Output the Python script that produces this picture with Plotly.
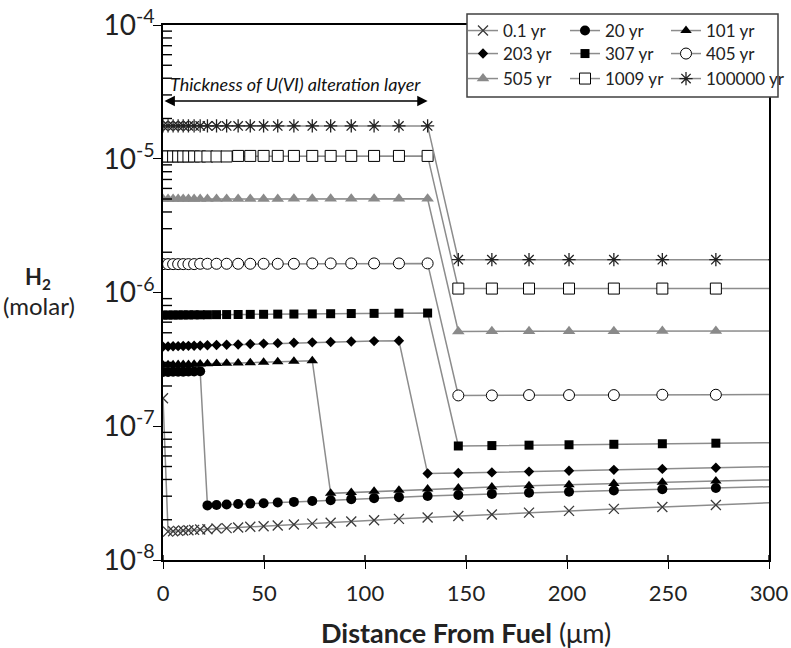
import math
import plotly.graph_objects as go

# Distance grid (µm) shared by every profile; the last node lies just past the 300 µm axis end
distance_um = [0, 2.5, 5, 7.5, 10, 12.6, 15.4, 18.4, 22, 26.5, 31.5, 37.2, 43.2, 49.8,
               56.8, 64.8, 73.9, 83, 93.2, 104.5, 116.8, 131, 146.2, 162.8, 181.2, 201,
               223.2, 247.2, 273.7, 303]

# H2 concentration (molar) at each grid node
h2_0p1yr = [1.62e-7, 1.63e-8, 1.64e-8, 1.65e-8, 1.66e-8, 1.67e-8, 1.68e-8, 1.69e-8, 1.70e-8,
            1.72e-8, 1.73e-8, 1.75e-8, 1.77e-8, 1.79e-8, 1.81e-8, 1.84e-8, 1.87e-8, 1.90e-8,
            1.94e-8, 1.98e-8, 2.03e-8, 2.08e-8, 2.13e-8, 2.19e-8, 2.26e-8, 2.33e-8, 2.41e-8,
            2.49e-8, 2.58e-8, 2.69e-8]
h2_20yr = [2.55e-7, 2.55e-7, 2.56e-7, 2.56e-7, 2.56e-7, 2.57e-7, 2.57e-7, 2.58e-7,
           2.56e-8, 2.58e-8, 2.60e-8, 2.62e-8, 2.64e-8, 2.66e-8, 2.69e-8, 2.72e-8, 2.76e-8,
           2.80e-8, 2.85e-8, 2.90e-8, 2.95e-8, 3.01e-8, 3.06e-8, 3.12e-8, 3.18e-8, 3.24e-8,
           3.31e-8, 3.38e-8, 3.45e-8, 3.54e-8]
h2_101yr = [2.87e-7, 2.88e-7, 2.88e-7, 2.89e-7, 2.89e-7, 2.90e-7, 2.91e-7, 2.92e-7, 2.93e-7,
            2.94e-7, 2.96e-7, 2.97e-7, 2.99e-7, 3.01e-7, 3.03e-7, 3.06e-7, 3.09e-7,
            3.15e-8, 3.20e-8, 3.26e-8, 3.32e-8, 3.39e-8, 3.45e-8, 3.52e-8, 3.59e-8, 3.66e-8,
            3.74e-8, 3.82e-8, 3.90e-8, 3.98e-8]
h2_203yr = [3.94e-7, 3.95e-7, 3.96e-7, 3.97e-7, 3.98e-7, 3.99e-7, 4.00e-7, 4.01e-7, 4.03e-7,
            4.05e-7, 4.07e-7, 4.09e-7, 4.12e-7, 4.15e-7, 4.18e-7, 4.21e-7, 4.24e-7, 4.27e-7,
            4.30e-7, 4.33e-7, 4.36e-7,
            4.43e-8, 4.47e-8, 4.52e-8, 4.58e-8, 4.65e-8, 4.72e-8, 4.80e-8, 4.89e-8, 4.99e-8]
h2_307yr = [6.78e-7, 6.78e-7, 6.79e-7, 6.79e-7, 6.80e-7, 6.80e-7, 6.81e-7, 6.81e-7, 6.82e-7,
            6.83e-7, 6.84e-7, 6.85e-7, 6.86e-7, 6.87e-7, 6.89e-7, 6.90e-7, 6.92e-7, 6.94e-7,
            6.96e-7, 6.98e-7, 7.00e-7, 7.02e-7,
            7.12e-8, 7.17e-8, 7.22e-8, 7.27e-8, 7.33e-8, 7.40e-8, 7.47e-8, 7.55e-8]
h2_405yr = [1.63e-6, 1.63e-6, 1.63e-6, 1.63e-6, 1.63e-6, 1.63e-6, 1.63e-6, 1.64e-6, 1.64e-6,
            1.64e-6, 1.64e-6, 1.64e-6, 1.64e-6, 1.64e-6, 1.64e-6, 1.64e-6, 1.65e-6, 1.65e-6,
            1.65e-6, 1.65e-6, 1.65e-6, 1.65e-6,
            1.70e-7, 1.70e-7, 1.71e-7, 1.71e-7, 1.71e-7, 1.72e-7, 1.72e-7, 1.73e-7]
h2_505yr = [5.00e-6, 5.00e-6, 5.00e-6, 5.00e-6, 5.00e-6, 5.00e-6, 5.00e-6, 5.01e-6, 5.01e-6,
            5.01e-6, 5.01e-6, 5.01e-6, 5.01e-6, 5.01e-6, 5.01e-6, 5.02e-6, 5.02e-6, 5.02e-6,
            5.02e-6, 5.02e-6, 5.02e-6, 5.02e-6,
            5.12e-7, 5.13e-7, 5.13e-7, 5.14e-7, 5.14e-7, 5.15e-7, 5.15e-7, 5.16e-7]
h2_1009yr = [1.04e-5, 1.04e-5, 1.04e-5, 1.04e-5, 1.04e-5, 1.04e-5, 1.04e-5, 1.04e-5, 1.04e-5,
             1.04e-5, 1.04e-5, 1.05e-5, 1.05e-5, 1.05e-5, 1.05e-5, 1.05e-5, 1.05e-5, 1.05e-5,
             1.05e-5, 1.05e-5, 1.05e-5, 1.05e-5,
             1.07e-6, 1.07e-6, 1.07e-6, 1.07e-6, 1.07e-6, 1.07e-6, 1.07e-6, 1.07e-6]
h2_100000yr = [1.76e-5, 1.76e-5, 1.76e-5, 1.76e-5, 1.76e-5, 1.76e-5, 1.76e-5, 1.76e-5, 1.76e-5,
               1.76e-5, 1.76e-5, 1.76e-5, 1.76e-5, 1.76e-5, 1.76e-5, 1.76e-5, 1.76e-5, 1.76e-5,
               1.76e-5, 1.76e-5, 1.76e-5, 1.76e-5,
               1.76e-6, 1.76e-6, 1.76e-6, 1.76e-6, 1.76e-6, 1.76e-6, 1.76e-6, 1.76e-6]

series_names = ["0.1 yr", "20 yr", "101 yr", "203 yr", "307 yr", "405 yr",
                "505 yr", "1009 yr", "100000 yr"]
series_values = [h2_0p1yr, h2_20yr, h2_101yr, h2_203yr, h2_307yr, h2_405yr,
                 h2_505yr, h2_1009yr, h2_100000yr]

y_tick_vals = [1e-8, 1e-7, 1e-6, 1e-5, 1e-4]
y_tick_text = ["10<sup>-8</sup>", "10<sup>-7</sup>", "10<sup>-6</sup>",
               "10<sup>-5</sup>", "10<sup>-4</sup>"]
# log minor ticks: 2..9 within each decade
y_minor_vals = [m * d for d in y_tick_vals[:-1] for m in range(2, 10)]
x_tick_vals = [0, 50, 100, 150, 200, 250, 300]
x_range = [0, 300]
y_log_range = [-8, -4]

layer_thickness_um = 131
FONT = "Lato"
LINE_GREY = "#8c8c8c"

# marker style for each profile
styles = [
    dict(symbol="x-thin-open", size=10, color="#3a3a3a", line=dict(color="#3a3a3a", width=1.3)),
    dict(symbol="circle", size=10, color="black", line=dict(color="black", width=0)),
    dict(symbol="triangle-up", size=10, color="black", line=dict(color="black", width=0)),
    dict(symbol="diamond", size=8, color="black", line=dict(color="black", width=0)),
    dict(symbol="square", size=9, color="black", line=dict(color="black", width=0)),
    dict(symbol="circle", size=11, color="white", line=dict(color="black", width=1)),
    dict(symbol="triangle-up", size=11, color="#8a8a8a", line=dict(color="#8a8a8a", width=0)),
    dict(symbol="square", size=11, color="white", line=dict(color="black", width=1)),
    dict(symbol="asterisk-open", size=11, color="#222222", line=dict(color="#222222", width=1.3)),
]

W, H = 791, 648
ML, MR, MT, MB = 163, 22, 25, 88
pw, ph = W - ML - MR, H - MT - MB


def px_to_paper_x(px):
    return (px - ML) / pw


def px_to_paper_y(py):
    return (H - MB - py) / ph


def log_to_paper_y(v):
    lo, hi = y_log_range
    return (math.log10(v) - lo) / (hi - lo)


# legend key: 3 x 3 grid, one single-entry legend per cell (filled row by row)
legend_cols_px = [463, 565, 666]
legend_rows_px = [13, 36, 61]
legend_ids = ["legend" if i == 0 else f"legend{i + 1}" for i in range(len(series_names))]

fig = go.Figure()
for name, vals, st, lg in zip(series_names, series_values, styles, legend_ids):
    fig.add_trace(go.Scatter(
        x=distance_um, y=vals, name=name, mode="lines+markers",
        line=dict(color=LINE_GREY, width=1.5),
        marker=st, legend=lg, cliponaxis=True,
    ))

legend_layout = {}
for i, lg in enumerate(legend_ids):
    legend_layout[lg] = dict(
        bgcolor="rgba(0,0,0,0)", borderwidth=0,
        font=dict(family=FONT, size=17, color="#222"),
        xanchor="left", yanchor="top", itemwidth=30,
        x=px_to_paper_x(legend_cols_px[i % 3]),
        y=px_to_paper_y(legend_rows_px[i // 3]),
    )

fig.update_layout(
    width=W, height=H,
    margin=dict(l=ML, r=MR, t=MT, b=MB, autoexpand=False),
    paper_bgcolor="white", plot_bgcolor="white",
    font=dict(family=FONT, color="#222"),
    showlegend=True,
    xaxis=dict(
        range=x_range, tickmode="array", tickvals=x_tick_vals,
        ticks="outside", ticklen=7, tickwidth=1.3, tickcolor="black",
        showline=True, linecolor="black", linewidth=1.5, mirror=True,
        showgrid=False, zeroline=False,
        tickfont=dict(family=FONT, size=22, color="#222"),
        ticklabelstandoff=6,
    ),
    yaxis=dict(
        type="log", range=y_log_range, tickmode="array",
        tickvals=y_tick_vals, ticktext=y_tick_text,
        ticks="outside", ticklen=8, tickwidth=1.3, tickcolor="black",
        showline=True, linecolor="black", linewidth=1.5, mirror=True,
        showgrid=False, zeroline=False,
        tickfont=dict(family=FONT, size=28, color="#222"),
        ticklabelstandoff=-7,
    ),
    **legend_layout,
)

# minor y ticks pointing into the frame
for v in y_minor_vals:
    yp = log_to_paper_y(v)
    fig.add_shape(type="line", xref="paper", yref="paper", layer="above",
                  x0=0, x1=9 / pw, y0=yp, y1=yp,
                  line=dict(color="black", width=1.4))
# inner half of the x ticks (major ticks cross the axis line)
for t in x_tick_vals:
    xp = (t - x_range[0]) / (x_range[1] - x_range[0])
    fig.add_shape(type="line", xref="paper", yref="paper", layer="above",
                  x0=xp, x1=xp, y0=0, y1=5 / ph,
                  line=dict(color="black", width=1.4))

# white legend panel with border over the top-right corner of the frame
fig.add_shape(
    type="rect", xref="paper", yref="paper", layer="above",
    x0=px_to_paper_x(467), x1=px_to_paper_x(778),
    y0=px_to_paper_y(97), y1=px_to_paper_y(14),
    fillcolor="white", line=dict(color="#404040", width=1.5),
)

arrow_y = -8 + (H - MB - 101) / (ph / 4)
label_y = -8 + (H - MB - 84) / (ph / 4)
fig.add_annotation(
    x=layer_thickness_um, y=arrow_y, ax=0, ay=arrow_y, xref="x", yref="y",
    axref="x", ayref="y", text="", showarrow=True,
    arrowhead=2, arrowside="end+start", arrowsize=1.3, arrowwidth=1.6, arrowcolor="black",
)
fig.add_annotation(
    x=layer_thickness_um / 2, y=label_y, xref="x", yref="y", showarrow=False,
    text="<i>Thickness of U(VI) alteration layer</i>",
    font=dict(family=FONT, size=18, color="#111"),
)
fig.add_annotation(
    x=px_to_paper_x(38), y=px_to_paper_y(278), xref="paper", yref="paper",
    xanchor="center", yanchor="middle",
    showarrow=False, text="<b>H<sub>2</sub></b>",
    font=dict(family=FONT, size=22, color="#222"),
)
fig.add_annotation(
    x=px_to_paper_x(39), y=px_to_paper_y(305), xref="paper", yref="paper",
    xanchor="center", yanchor="middle",
    showarrow=False, text="(molar)",
    font=dict(family=FONT, size=24, color="#222"),
)
fig.add_annotation(
    x=px_to_paper_x(466), y=px_to_paper_y(632), xref="paper", yref="paper",
    xanchor="center", showarrow=False, yanchor="middle",
    text="<b>Distance From Fuel</b> (μm)",
    font=dict(family=FONT, size=27, color="#222"),
)

fig.write_html("out.html")
